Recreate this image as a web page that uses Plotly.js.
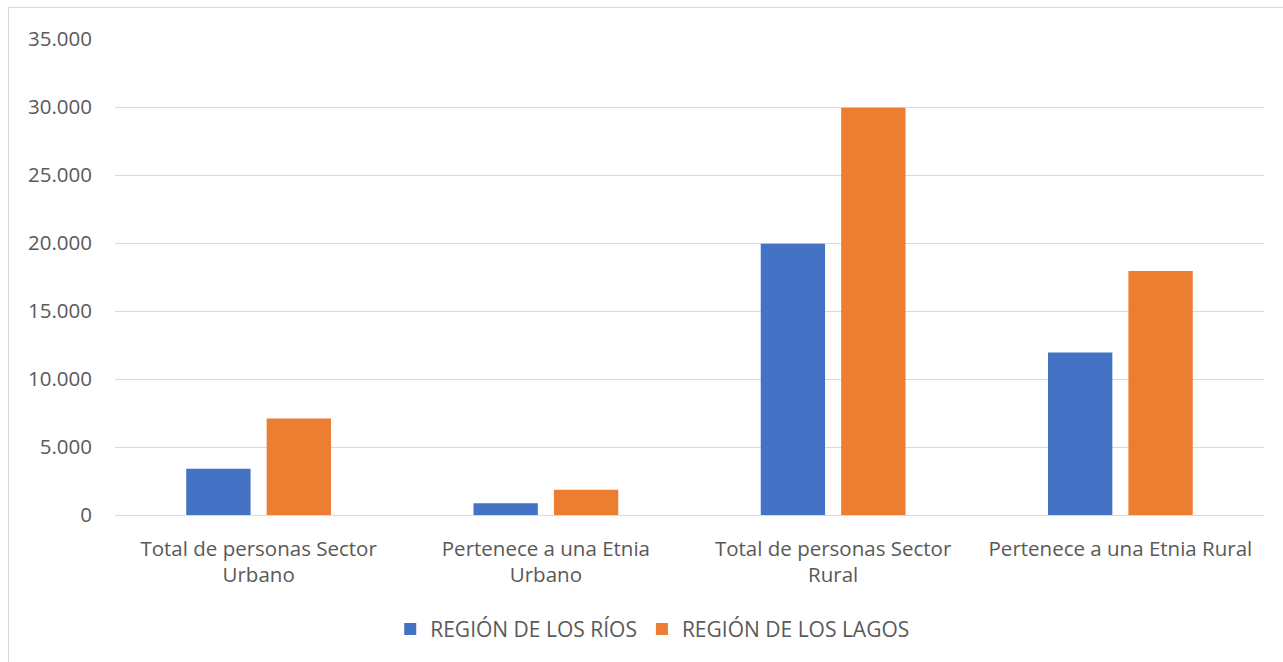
<!DOCTYPE html>
<html>
<head>
<meta charset="utf-8">
<script src="https://cdn.plot.ly/plotly-3.0.1.min.js"></script>
<style>
  html, body { margin: 0; padding: 0; background: #fff; overflow: hidden; }
  #chart { width: 1283px; height: 662px; }
  #frame { position: absolute; left: 8px; top: 7px; width: 1290px; height: 700px; border: 1px solid #d9d9d9; pointer-events: none; }
</style>
</head>
<body>
<div id="chart"></div>
<div id="frame"></div>
<script>
const categories = [
  "Total de personas Sector<br>Urbano",
  "Pertenece a una Etnia<br>Urbano",
  "Total de personas Sector<br>Rural",
  "Pertenece a una Etnia Rural"
];
const seriesNames = ["REGIÓN DE LOS RÍOS", "REGIÓN DE LOS LAGOS"];
const losRios = [3400, 870, 19950, 11950];
const losLagos = [7100, 1850, 29950, 17950];
const yTicks = [0, 5000, 10000, 15000, 20000, 25000, 30000, 35000];

const fam = "'Open Sans', Lato, sans-serif";
const xfont = { family: fam, size: 20.5, color: "#595959" };
const yfont = { family: fam, size: 20.5, color: "#595959" };
const lfont = { family: fam, size: 21, color: "#595959" };

const data = [
  { type: "bar", name: seriesNames[0], x: categories, y: losRios,
    marker: { color: "#4472c4" } },
  { type: "bar", name: seriesNames[1], x: categories, y: losLagos,
    marker: { color: "#ed7d31" } }
];

const layout = {
  width: 1283, height: 662,
  margin: { l: 115, r: 19, t: 39, b: 145 },
  paper_bgcolor: "#ffffff", plot_bgcolor: "#ffffff",
  separators: ",.",
  font: xfont,
  barmode: "group",
  bargap: 0.44,
  bargroupgap: 0.2,
  showlegend: true,
  legend: { orientation: "h", x: 0.468, xanchor: "center", y: -0.24, yanchor: "middle",
            font: lfont, itemwidth: 30, traceorder: "normal" },
  xaxis: { type: "category", tickfont: xfont, showgrid: false, showline: false, zeroline: false,
           ticks: "", ticklabelstandoff: 19, automargin: false },
  yaxis: { range: [0, 35000], tickvals: yTicks, tickformat: ",d", tickfont: yfont,
           gridcolor: "#d9d9d9", gridwidth: 1, zeroline: true, zerolinecolor: "#d9d9d9",
           zerolinewidth: 1, showline: false, ticks: "", ticklabelstandoff: 22, automargin: false }
};

Plotly.newPlot("chart", data, layout, { staticPlot: true, displayModeBar: false });
</script>
</body>
</html>
